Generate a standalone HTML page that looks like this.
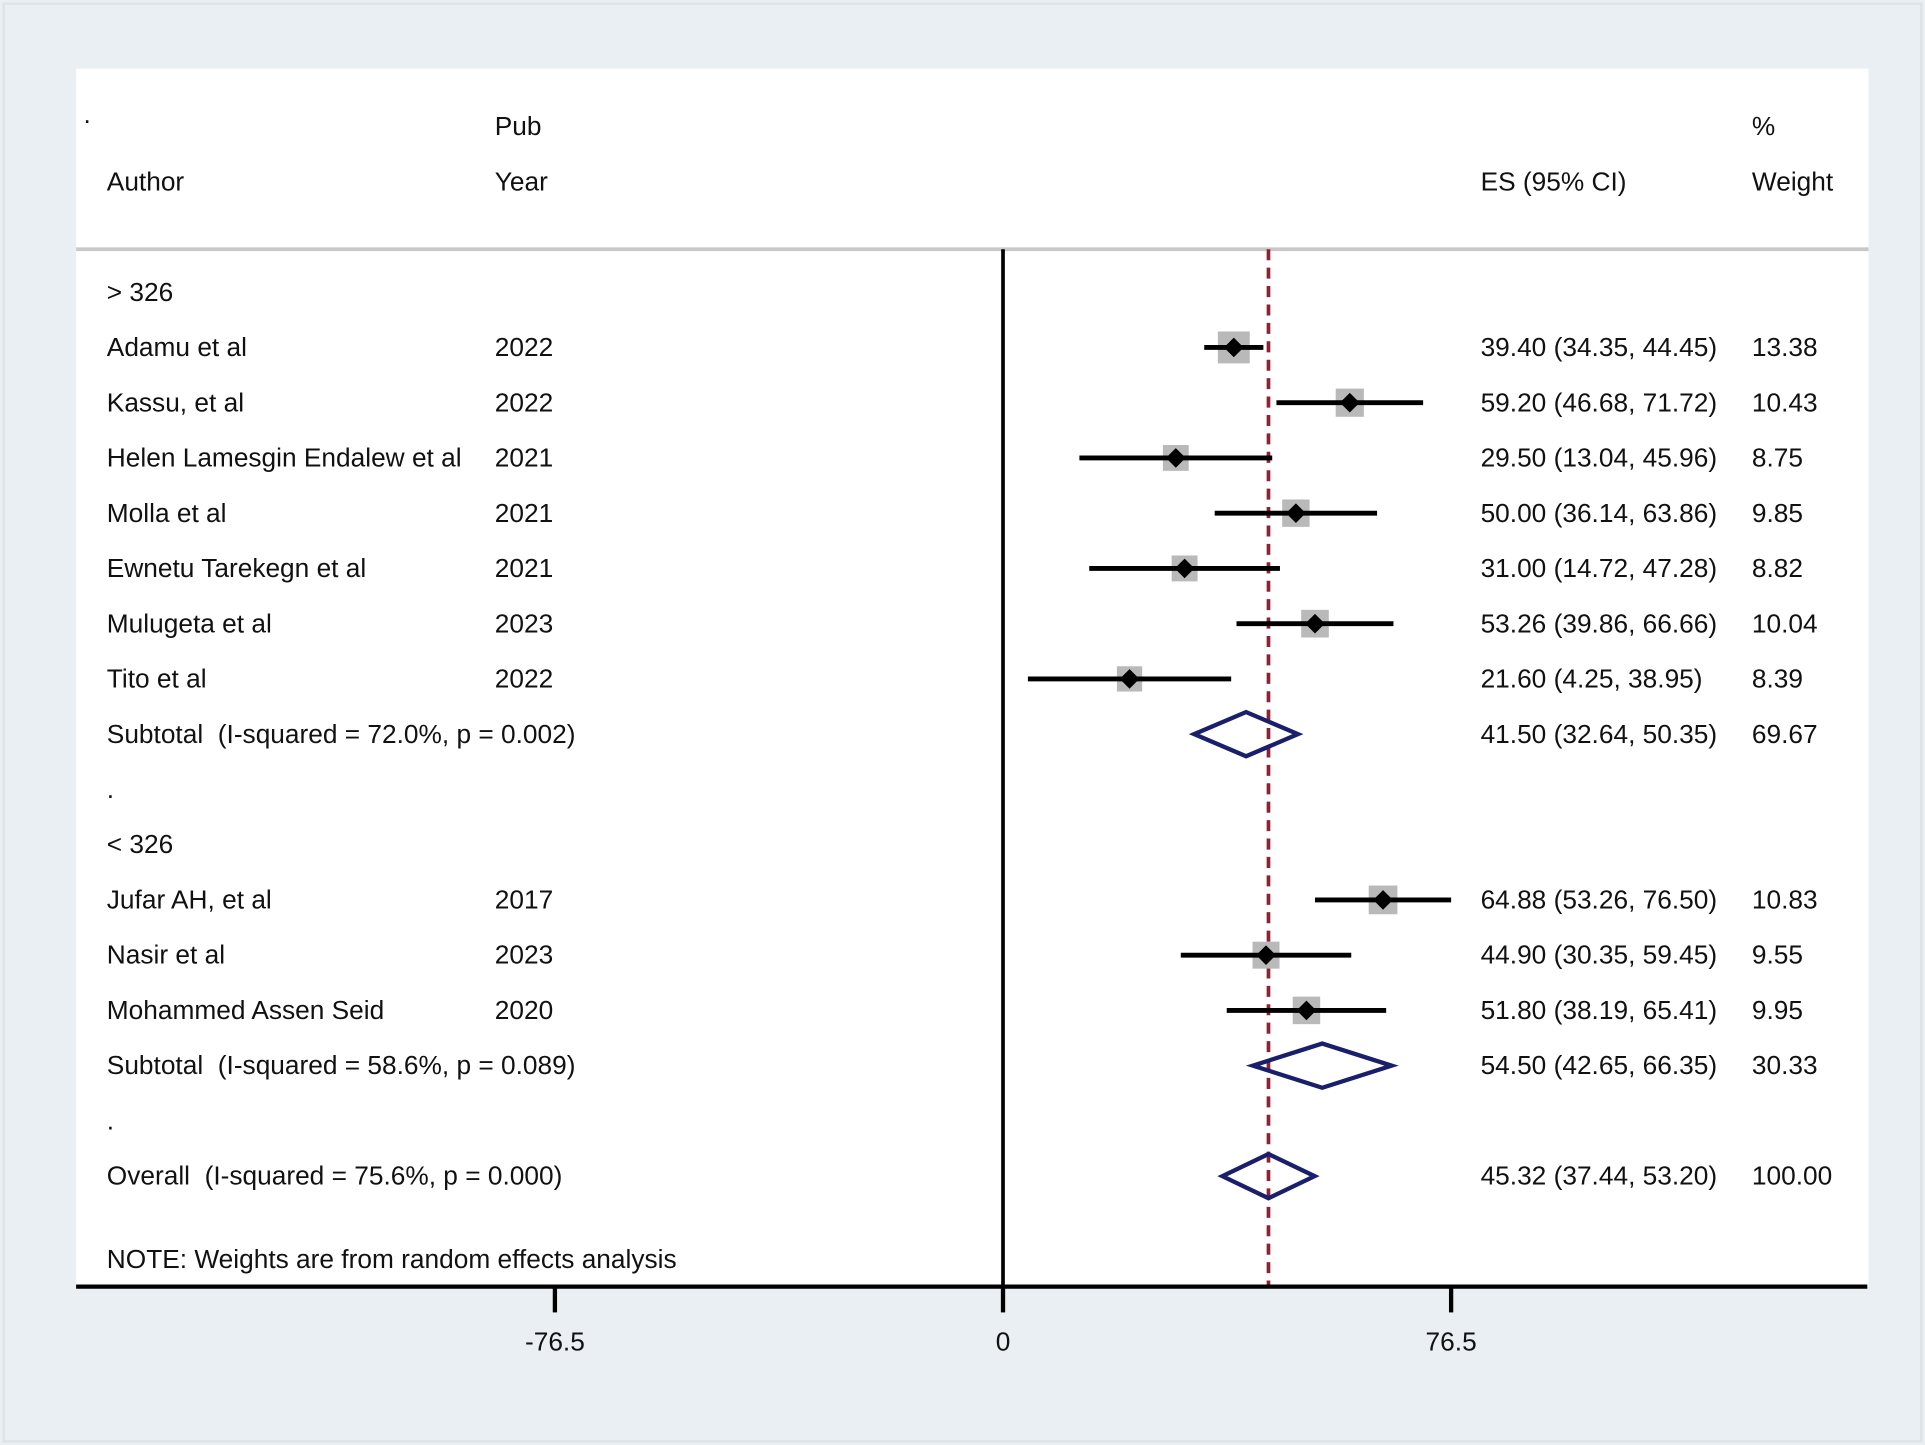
<!DOCTYPE html>
<html><head><meta charset="utf-8"><style>
html,body{margin:0;padding:0;background:#e9eff2;}
svg{display:block;}
text{font-family:"Liberation Sans",sans-serif;font-size:21.4px;fill:#111;white-space:pre;}
</style></head><body>
<svg width="1925" height="1445" viewBox="0 0 1568 1177" preserveAspectRatio="none" xmlns="http://www.w3.org/2000/svg" xml:space="preserve">
<rect x="0" y="0" width="1568" height="1177" fill="#e9eff2"/>
<rect x="3" y="3" width="1562" height="1171" fill="#e9eff2" stroke="#dde4e8" stroke-width="2"/>
<rect x="62" y="56" width="1460" height="992" fill="#ffffff"/>
<line x1="62" y1="203" x2="1522" y2="203" stroke="#c8c8c8" stroke-width="3"/>
<g id="hdr">
<text x="68" y="100">.</text>
<text x="403" y="110">Pub</text>
<text x="1427" y="110">%</text>
<text x="87" y="155">Author</text>
<text x="403" y="155">Year</text>
<text x="1206" y="155">ES (95% CI)</text>
<text x="1427" y="155">Weight</text>
</g>
<g id="plot"></g>
</svg>
<script>
const labels=["> 326","Adamu et al","Kassu, et al","Helen Lamesgin Endalew et al","Molla et al","Ewnetu Tarekegn et al","Mulugeta et al","Tito et al","Subtotal  (I-squared = 72.0%, p = 0.002)",".","< 326","Jufar AH, et al","Nasir et al","Mohammed Assen Seid","Subtotal  (I-squared = 58.6%, p = 0.089)",".","Overall  (I-squared = 75.6%, p = 0.000)"];
const years=["","2022","2022","2021","2021","2021","2023","2022","","","","2017","2023","2020","","",""];
const kinds=["h","s","s","s","s","s","s","s","d","b","h","s","s","s","d","b","d"];
const es=[null,39.40,59.20,29.50,50.00,31.00,53.26,21.60,41.50,null,null,64.88,44.90,51.80,54.50,null,45.32];
const lo=[null,34.35,46.68,13.04,36.14,14.72,39.86,4.25,32.64,null,null,53.26,30.35,38.19,42.65,null,37.44];
const hi=[null,44.45,71.72,45.96,63.86,47.28,66.66,38.95,50.35,null,null,76.50,59.45,65.41,66.35,null,53.20];
const weights=[null,13.38,10.43,8.75,9.85,8.82,10.04,8.39,69.67,null,null,10.83,9.55,9.95,30.33,null,100.00];
const tickVals=[-76.5,0,76.5];
const tickLabels=["-76.5","0","76.5"];
const overall=45.32;
const NS="http://www.w3.org/2000/svg";
const g=document.getElementById('plot');
const x=v=>817+v*(365/76.5);
const y=i=>238+i*45;
function mk(t,a){const e=document.createElementNS(NS,t);for(const k in a)e.setAttribute(k,a[k]);g.appendChild(e);return e;}
let e;
e=mk('line',{x1:817,y1:203,x2:817,y2:1048,stroke:'#000','stroke-width':3});


e=mk('line',{x1:x(overall),y1:203,x2:x(overall),y2:1048,stroke:'#8b2332','stroke-width':3,'stroke-dasharray':'9,6'});


labels.forEach((lab,i)=>{
  const yy=y(i);
  let t=mk('text',{x:87,y:yy+7});t.textContent=lab;
  
  
  if(years[i]){t=mk('text',{x:403,y:yy+7});t.textContent=years[i];
    
    }
  if(es[i]!==null){
    t=mk('text',{x:1206,y:yy+7});t.textContent=es[i].toFixed(2)+" ("+lo[i].toFixed(2)+", "+hi[i].toFixed(2)+")";
    
    
    t=mk('text',{x:1427,y:yy+7});t.textContent=weights[i].toFixed(2);
    
    
  }
  if(kinds[i]==='s'){
    const s=26*Math.sqrt(weights[i]/13.38);
    let r=mk('rect',{x:x(es[i])-s/2,y:yy-s/2,width:s,height:s,fill:'#b9b9b9'});
    
    
    let l=mk('line',{x1:x(lo[i]),y1:yy,x2:x(hi[i]),y2:yy,stroke:'#000','stroke-width':4});
    
    
    const cx=x(es[i]);
    let p=mk('polygon',{points:`${cx-8},${yy} ${cx},${yy-8} ${cx+8},${yy} ${cx},${yy+8}`,fill:'#000'});
    
    
  } else if(kinds[i]==='d'){
    const h=18;
    let p=mk('polygon',{points:`${x(lo[i])},${yy} ${x(es[i])},${yy-h} ${x(hi[i])},${yy} ${x(es[i])},${yy+h}`,fill:'none',stroke:'#1a1f6b','stroke-width':3.5});
    
    
  }
});
let n=mk('text',{x:87,y:1033});n.textContent="NOTE: Weights are from random effects analysis";


e=mk('line',{x1:62,y1:1048,x2:1521,y2:1048,stroke:'#000','stroke-width':3.5});


tickVals.forEach((v,i)=>{
  let l=mk('line',{x1:x(v),y1:1048,x2:x(v),y2:1069,stroke:'#000','stroke-width':3.5});
  
  
  let t=mk('text',{x:x(v),y:1100,'text-anchor':'middle'});t.textContent=tickLabels[i];
  
  
});
</script>
</body></html>
